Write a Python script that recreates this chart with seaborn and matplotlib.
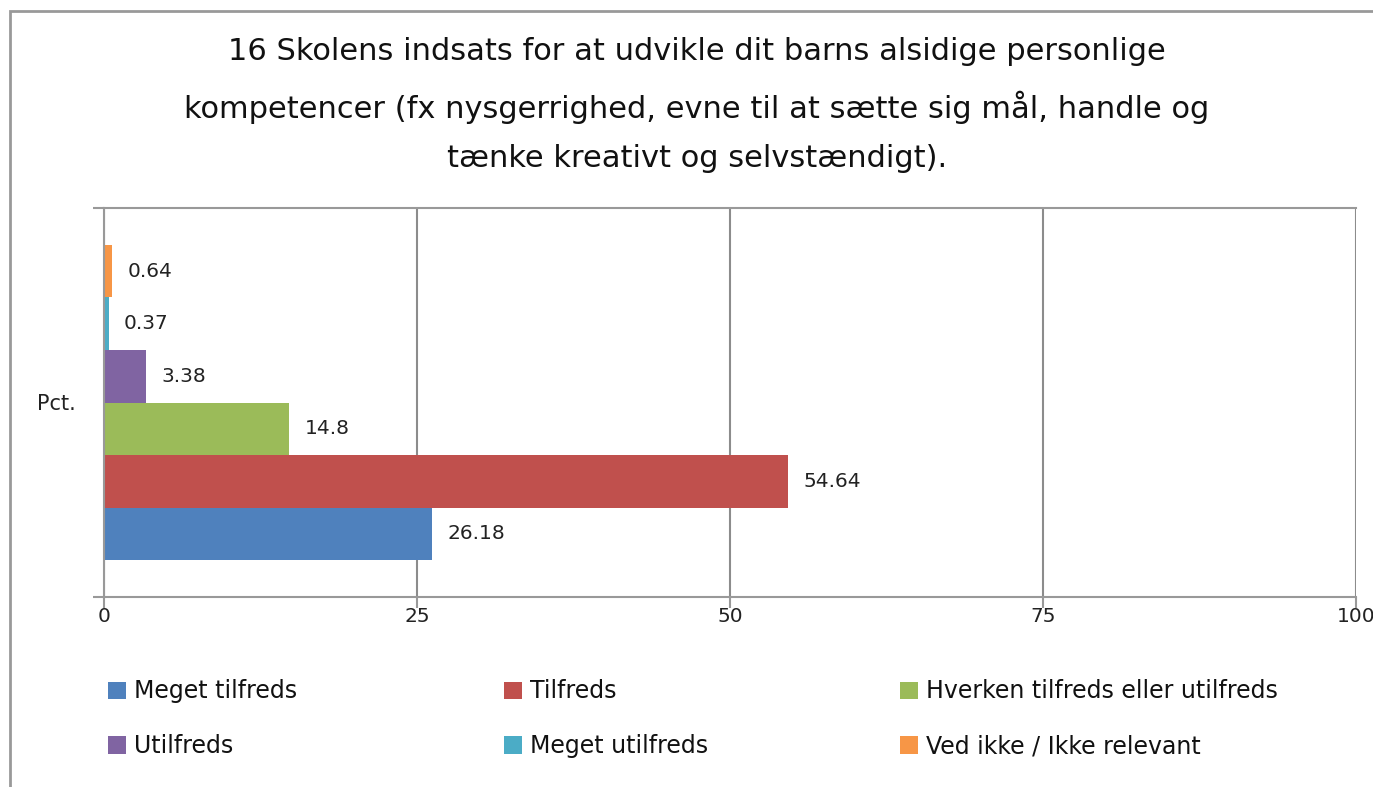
import matplotlib
matplotlib.use("Agg")
import matplotlib.pyplot as plt
import matplotlib.patches as mpatches
import seaborn as sns
import pandas as pd

title = ("16 Skolens indsats for at udvikle dit barns alsidige personlige\n"
         "kompetencer (fx nysgerrighed, evne til at sætte sig mål, handle og\n"
         "tænke kreativt og selvstændigt).")
category = ["Pct."]
series = ["Meget tilfreds", "Tilfreds", "Hverken tilfreds eller utilfreds",
          "Utilfreds", "Meget utilfreds", "Ved ikke / Ikke relevant"]
values = [26.18, 54.64, 14.8, 3.38, 0.37, 0.64]
labels = ["26.18", "54.64", "14.8", "3.38", "0.37", "0.64"]
colors = ["#4F81BD", "#C0504D", "#9BBB59", "#8064A2", "#4BACC6", "#F79646"]
xticks = [0, 25, 50, 75, 100]

sns.set_theme(style="white")
plt.rcParams["font.family"] = ["DejaVu Sans"]

df = pd.DataFrame({"cat": category * len(series), "series": series, "value": values})
palette = dict(zip(series, colors))

fig = plt.figure(figsize=(13.73, 7.87), dpi=100)
ax = fig.add_axes([104/1373, 1-597/787, (1356-104)/1373, (597-208)/787])

order = series[::-1]
sns.barplot(data=df, y="cat", x="value", hue="series", hue_order=order,
            palette=palette, orient="h", width=0.81, saturation=1,
            linewidth=0, ax=ax, legend=False)

# data labels
for cont, name in zip(ax.containers, order):
    i = series.index(name)
    ax.bar_label(cont, labels=[labels[i]], padding=11, fontsize=14.5,
                 color="#222222", family="DejaVu Sans")

ax.set_xlim(0, 100)
ax.set_ylim(0.5, -0.5)
ax.set_xticks(xticks)
ax.set_xticklabels([str(t) for t in xticks], fontsize=14.5, color="#222222")
ax.set_yticks([0])
ax.set_yticklabels(category, fontsize=15, color="#222222")
ax.set_yticks([-0.5, 0.5], minor=True)
ax.tick_params(axis="y", which="major", length=0, pad=20)
ax.tick_params(axis="y", which="minor", length=8, width=1.5, color="#999999", left=True)
ax.tick_params(axis="x", which="major", length=8, width=1.5, color="#999999",
               bottom=True, direction="out", pad=-1)
ax.set_xlabel("")
ax.set_ylabel("")
ax.grid(axis="x", color="#8c8c8c", linewidth=1.5)
ax.set_axisbelow(True)
for side in ["left", "bottom", "top"]:
    ax.spines[side].set_visible(True)
    ax.spines[side].set_color("#999999")
    ax.spines[side].set_linewidth(1.5)
ax.spines["right"].set_visible(False)

fig.text(697/1373, 1-105/787, title, ha="center", va="center", fontsize=22,
         linespacing=1.9, color="#111111", family="DejaVu Sans")

# chart border
border = mpatches.Rectangle((10/1373, -0.05), 1.2, 1-11/787+0.05,
                            transform=fig.transFigure, fill=False,
                            edgecolor="#999999", linewidth=2)
fig.add_artist(border)

# legend: three columns of two entries
handles = [mpatches.Patch(facecolor=c, edgecolor="none") for c in colors]
col_x = [99, 495, 891]
for k in range(3):
    idx = [k, k + 3]
    fig.legend([handles[i] for i in idx], [series[i] for i in idx],
               loc="upper left", bbox_to_anchor=(col_x[k]/1373, 1-670/787),
               frameon=False, fontsize=17, handlelength=0.75, handleheight=0.75,
               handletextpad=0.35, labelspacing=1.3, borderaxespad=0,
               labelcolor="#111111")

fig.savefig("out.png", dpi=100)
